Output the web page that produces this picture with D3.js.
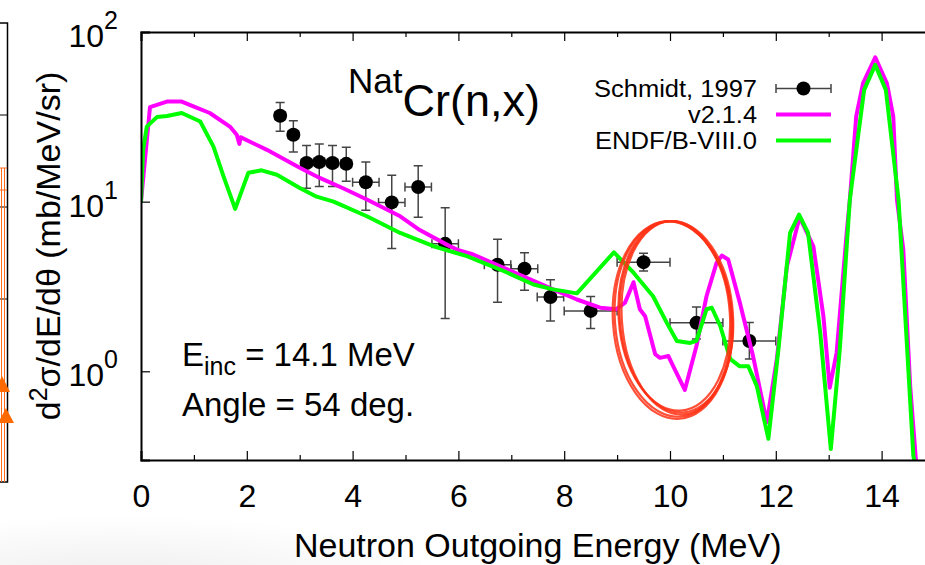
<!DOCTYPE html>
<html>
<head>
<meta charset="utf-8">
<script src="https://cdn.jsdelivr.net/npm/d3@7"></script>
<style>
  body { margin: 0; background: #fff; }
  svg text { font-family: "Liberation Sans", Arial, Helvetica, sans-serif; fill: #000; }
</style>
</head>
<body>
<div id="chart"></div>
<script>
// Double differential neutron emission spectrum, natCr(n,x) at 14.1 MeV, 54 deg.

//tick values
var xMajorTicks = [0, 2, 4, 6, 8, 10, 12, 14];
var xMinorTicks = [1, 3, 5, 7, 9, 11, 13];
var yTicks = [1, 10, 100];
var yTickPowers = ["0", "1", "2"];

//Schmidt, 1997 experimental points
var expE  = [2.63, 2.88, 3.13, 3.37, 3.62, 3.88, 4.25, 4.74, 5.24, 5.75, 6.74, 7.25, 7.74, 8.5, 9.5, 10.5, 11.5];
var expV  = [32.1, 24.8, 16.9, 17.1, 16.9, 16.7, 13.0, 9.9, 12.2, 5.64, 4.25, 4.02, 2.74, 2.27, 4.4, 1.93, 1.51];
var expLo = [26.0, 19.6, 12.0, 12.3, 12.3, 13.2, 8.9, 5.3, 8.1, 2.05, 2.55, 3.0, 1.98, 1.79, 3.9, 1.55, 1.18];
var expHi = [38.4, 30.0, 21.4, 21.9, 21.4, 20.9, 17.1, 14.3, 16.3, 9.2, 6.0, 5.0, 3.47, 2.76, 4.96, 2.39, 1.94];
var expDE = [0.1, 0.1, 0.1, 0.1, 0.1, 0.1, 0.25, 0.25, 0.25, 0.25, 0.25, 0.25, 0.25, 0.5, 0.5, 0.5, 0.5];

//v2.1.4 calculation
var v214E = [0, 0.17, 0.49, 0.77, 0.99, 1.30, 1.68, 1.81, 1.86, 1.88, 2.38, 3.01, 3.38, 3.82, 4.27,
  4.90, 5.27, 5.78, 5.97, 6.28, 6.79, 7.29, 7.79, 8.24, 8.68, 8.99, 9.15, 9.31, 9.43, 9.53, 9.72,
  9.81, 9.97, 10.03, 10.28, 10.50, 10.69, 10.88, 10.98, 11.10, 11.32, 11.57, 11.83, 12.02, 12.21,
  12.45, 12.71, 12.90, 13.02, 13.15, 13.34, 13.40, 13.52, 13.65, 13.88, 14.10, 14.22, 14.29,
  14.41, 14.54, 14.66];
var v214V = [10.0, 36.1, 38.9, 38.9, 36.4, 33.3, 27.7, 24.8, 21.9, 24.0, 20.2, 15.8, 13.8, 12.0, 10.3,
  8.2, 6.8, 5.58, 5.22, 4.88, 4.16, 3.56, 3.04, 2.65, 2.37, 2.32, 2.54, 3.35, 2.32, 2.11, 1.26,
  1.20, 1.23, 1.12, 0.776, 1.41, 2.77, 4.36, 4.81, 4.56, 2.54, 1.23, 0.50, 1.18, 4.16,
  8.1, 5.46, 2.11, 0.80, 1.29, 6.54, 10.3, 31.8, 49.9, 71.0, 49.9, 31.8, 10.3,
  5.22, 0.82, 0.27];

//ENDF/B-VIII.0 evaluation
var endfE = [0, 0.04, 0.11, 0.30, 0.49, 0.77, 1.12, 1.37, 1.56, 1.78, 2.03, 2.28, 2.57, 3.01, 3.32,
  3.64, 4.27, 4.90, 5.53, 6.16, 6.79, 7.42, 7.79, 8.24, 8.94, 9.31, 9.68, 9.94, 10.13, 10.38,
  10.50, 10.69, 10.79, 10.95, 11.14, 11.32, 11.48, 11.64, 11.86, 12.05, 12.27, 12.44, 12.61,
  12.84, 13.04, 13.21, 13.40, 13.67, 13.88, 14.08, 14.32, 14.60, 14.66];
var endfV = [10.0, 20.2, 27.7, 31.5, 32.0, 33.3, 29.7, 21.1, 14.1, 9.06, 14.8, 15.3, 14.4, 12.0, 10.7,
  10.0, 8.2, 6.54, 5.46, 4.77, 3.98, 3.25, 3.04, 2.88, 5.03, 3.81, 2.77, 1.93, 1.51, 1.47,
  1.51, 2.32, 2.37, 1.85, 1.18, 1.07, 1.07, 0.82, 0.40, 1.35, 6.54, 8.39, 6.54,
  1.69, 0.348, 1.35, 10.3, 45.6, 64.0, 45.6, 10.3, 0.318, 0.25];

//hand drawn red ellipse around 9-11 MeV (data units)
var ringCenterE = 10.12, ringHalfWidthE = 1.07;
var ringTopV = 7.7, ringBottomV = 0.57;

var legendNames = ["Schmidt, 1997", "v2.1.4", "ENDF/B-VIII.0"];
var legendWidths = [163, 69, 162];
var legendColors = ["#000000", "#ff00ff", "#00ff00"];

window.onload = drawChart();

function drawChart(){
  var width = 925, height = 565;

  var svg = d3.select("#chart")
    .append("svg")
    .attr("width", width)
    .attr("height", height);

  //faint shadow at the lower left of the photographed page
  var defs = svg.append("defs");
  var grad = defs.append("radialGradient").attr("id", "shade");
  grad.append("stop").attr("offset", "0%").attr("stop-color", "#000").attr("stop-opacity", 0.07);
  grad.append("stop").attr("offset", "100%").attr("stop-color", "#000").attr("stop-opacity", 0);
  svg.append("ellipse")
    .attr("cx", 120).attr("cy", 585).attr("rx", 330).attr("ry", 70)
    .attr("fill", "url(#shade)");

  //neighbouring panel cut at the left edge of the picture
  drawNeighbour(svg);

  var x = d3.scaleLinear().domain([0, 15]).range([141, 934.5]);
  var y = d3.scaleLog().domain([0.3, 100]).range([460, 32]);

  svg.append("clipPath").attr("id", "plotClip")
    .append("rect")
    .attr("x", x(0)).attr("y", y(100))
    .attr("width", x(15) - x(0)).attr("height", y(0.3) - y(100));

  var plot = svg.append("g").attr("clip-path", "url(#plotClip)");

  //experimental points with x and y error bars
  var expData = expE.map(function(e, i){
    return {e: e, v: expV[i], lo: expLo[i], hi: expHi[i], de: expDE[i]};
  });
  var bars = plot.append("g")
    .attr("stroke", "#444")
    .attr("stroke-width", 1.5)
    .attr("fill", "none");
  expData.forEach(function(d){
    var cx = x(d.e), cy = y(d.v);
    var x0 = x(d.e - d.de), x1 = x(d.e + d.de);
    var y0 = y(d.lo), y1 = y(d.hi);
    bars.append("path")
      .attr("d", "M" + cx + "," + y0 + "V" + y1 +
                 "M" + (cx - 4.5) + "," + y0 + "H" + (cx + 4.5) +
                 "M" + (cx - 4.5) + "," + y1 + "H" + (cx + 4.5) +
                 "M" + x0 + "," + cy + "H" + x1 +
                 "M" + x0 + "," + (cy - 4.5) + "V" + (cy + 4.5) +
                 "M" + x1 + "," + (cy - 4.5) + "V" + (cy + 4.5));
  });
  plot.append("g").selectAll("circle")
    .data(expData)
    .enter()
    .append("circle")
    .attr("cx", function(d){ return x(d.e); })
    .attr("cy", function(d){ return y(d.v); })
    .attr("r", 7)
    .attr("fill", "#000");

  //calculation curves
  var line = d3.line()
    .x(function(d){ return x(d[0]); })
    .y(function(d){ return y(d[1]); });

  plot.append("path")
    .datum(d3.zip(v214E, v214V))
    .attr("d", line)
    .attr("fill", "none")
    .attr("stroke", "#ff00ff")
    .attr("stroke-width", 4)
    .attr("stroke-linejoin", "round");

  plot.append("path")
    .datum(d3.zip(endfE, endfV))
    .attr("d", line)
    .attr("fill", "none")
    .attr("stroke", "#00ff00")
    .attr("stroke-width", 4)
    .attr("stroke-linejoin", "round");

  //axes: bottom and top mirrored, ticks point inwards
  var bottomAxis = svg.append("g")
    .attr("transform", "translate(0," + y(0.3) + ")")
    .call(d3.axisBottom(x).tickValues(xMajorTicks).tickSize(-9).tickPadding(24));
  svg.append("g")
    .attr("transform", "translate(0," + y(0.3) + ")")
    .call(d3.axisBottom(x).tickValues(xMinorTicks).tickSize(-5).tickFormat(""))
    .select(".domain").remove();
  svg.append("g")
    .attr("transform", "translate(0," + y(100) + ")")
    .call(d3.axisTop(x).tickValues(xMajorTicks).tickSize(-9).tickFormat(""));
  svg.append("g")
    .attr("transform", "translate(0," + y(100) + ")")
    .call(d3.axisTop(x).tickValues(xMinorTicks).tickSize(-5).tickFormat(""))
    .select(".domain").remove();
  svg.append("g")
    .attr("transform", "translate(" + x(0) + ",0)")
    .call(d3.axisLeft(y).tickValues(yTicks).tickSize(-9).tickFormat(""));

  svg.selectAll(".domain").attr("stroke", "#000").attr("stroke-width", 2);
  svg.selectAll(".tick line").attr("stroke", "#000").attr("stroke-width", 1.2);

  bottomAxis.selectAll(".tick text")
    .attr("font-size", 32)
    .attr("font-family", null)
    .attr("fill", "#000");

  //y tick labels as powers of ten
  var yLab = svg.append("g");
  yTicks.forEach(function(t, i){
    var lab = yLab.append("text")
      .attr("x", 118)
      .attr("y", y(t) + 15)
      .attr("text-anchor", "end")
      .attr("font-size", 32);
    lab.append("tspan").text("10");
    lab.append("tspan").attr("font-size", 25).attr("dy", -18).text(yTickPowers[i]);
  });

  //axis titles
  svg.append("text")
    .attr("x", (x(0) + x(15)) / 2)
    .attr("y", 557)
    .attr("text-anchor", "middle")
    .attr("font-size", 34)
    .text("Neutron Outgoing Energy (MeV)");

  var yTitle = svg.append("text")
    .attr("transform", "translate(60," + (y(0.3) + y(100)) / 2 + ") rotate(-90)")
    .attr("text-anchor", "middle")
    .attr("font-size", 34);
  yTitle.append("tspan").text("d");
  yTitle.append("tspan").attr("font-size", 25).attr("dy", -13).text("2");
  yTitle.append("tspan").attr("dy", 13).text("σ/dE/dθ (mb/MeV/sr)");

  //reaction title
  var title = svg.append("text").attr("x", 348).attr("y", 93);
  title.append("tspan").attr("font-size", 35).text("Nat");
  title.append("tspan").attr("font-size", 45).attr("dy", 23).text("Cr(n,x)");

  //incident energy and angle
  var note = svg.append("text").attr("x", 182).attr("y", 366).attr("font-size", 33);
  note.append("tspan").text("E");
  note.append("tspan").attr("font-size", 25).attr("dy", 9).text("inc");
  note.append("tspan").attr("dy", -9).text(" = 14.1 MeV");
  svg.append("text").attr("x", 182).attr("y", 416).attr("font-size", 33)
    .text("Angle = 54 deg.");

  //legend
  var legend = svg.append("g");
  legendNames.forEach(function(name, i){
    var by = 97 + i * 26;
    legend.append("text")
      .attr("x", 757).attr("y", by)
      .attr("text-anchor", "end")
      .attr("font-size", 23)
      .attr("textLength", legendWidths[i])
      .attr("lengthAdjust", "spacingAndGlyphs")
      .text(name);
    var ly = by - 8.5;
    if (i == 0){
      legend.append("path")
        .attr("d", "M776," + ly + "H831M776," + (ly - 4.5) + "V" + (ly + 4.5) +
                   "M831," + (ly - 4.5) + "V" + (ly + 4.5))
        .attr("stroke", "#444").attr("stroke-width", 1.5).attr("fill", "none");
      legend.append("circle").attr("cx", 803.5).attr("cy", ly).attr("r", 7).attr("fill", "#000");
    } else {
      legend.append("line")
        .attr("x1", 776).attr("x2", 831).attr("y1", ly).attr("y2", ly)
        .attr("stroke", legendColors[i]).attr("stroke-width", 4);
    }
  });

  //red ellipse drawn over the plot, a few loose loops of a brush
  var rcx = x(ringCenterE), rrx = x(ringCenterE + ringHalfWidthE) - rcx;
  var rTop = y(ringTopV), rBot = y(ringBottomV);
  var rcy = (rTop + rBot) / 2, rry = (rBot - rTop) / 2;
  var ring = svg.append("g")
    .attr("fill", "none")
    .attr("stroke", "#ff3014")
    .attr("transform", "rotate(-4," + rcx + "," + rcy + ")");
  [[0, 0, 0, 0], [-3, 2, 2, 2], [-2, -1, -1, -1], [-4, 3, 3, 3], [0, 1, -2, 1]].forEach(function(o){
    ring.append("ellipse")
      .attr("cx", rcx + o[0]).attr("cy", rcy + o[1])
      .attr("rx", rrx + o[2]).attr("ry", rry + o[3])
      .attr("stroke-width", 2.2)
      .attr("opacity", 0.85);
  });
}

function drawNeighbour(svg){
  var g = svg.append("g");
  g.append("path")
    .attr("d", "M0,23H7.5V482H0")
    .attr("fill", "none").attr("stroke", "#000").attr("stroke-width", 1.5);
  g.append("path")
    .attr("d", "M0,115H7M0,207H7M0,299H7")
    .attr("stroke", "#000").attr("stroke-width", 1);
  g.append("path")
    .attr("d", "M0,168H7M0,190H7M1.5,168V482M4.5,168V482")
    .attr("stroke", "#ff6a1a").attr("stroke-width", 1);
  g.append("path")
    .attr("d", "M-6,392L2,376L10,392ZM-2,423L6,408L14,423Z")
    .attr("fill", "#ff6a00");
}
</script>
</body>
</html>
